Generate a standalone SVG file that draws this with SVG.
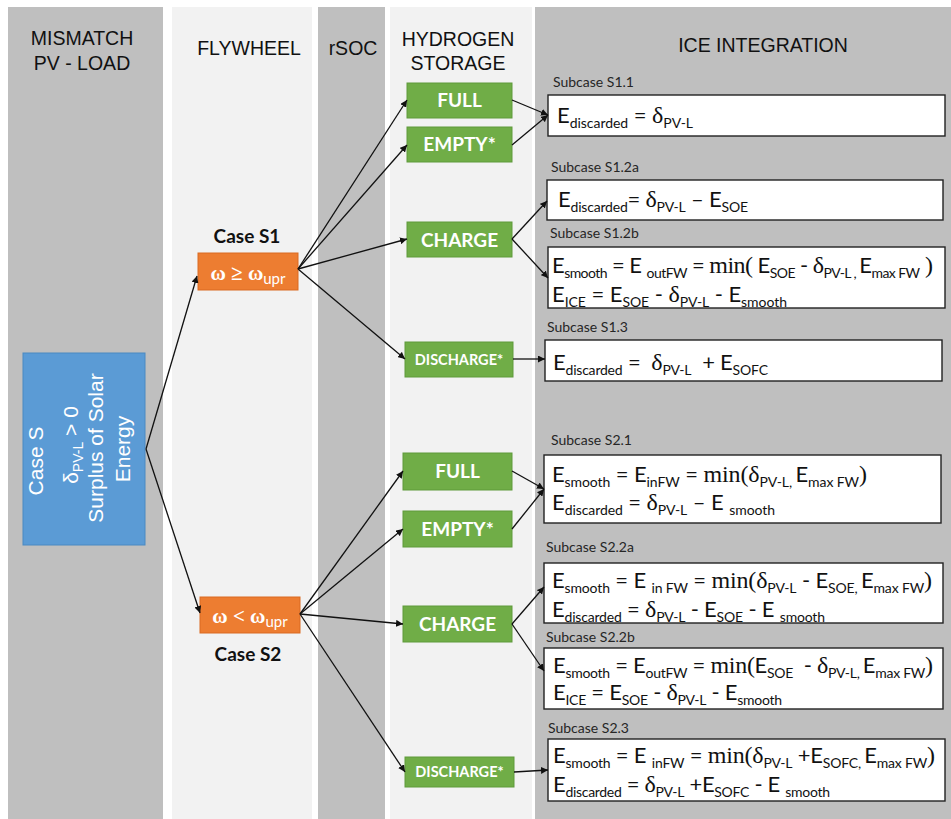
<svg xmlns="http://www.w3.org/2000/svg" width="951" height="819" viewBox="0 0 951 819">
<style>
.colD{fill:#bfbfbf}
.colL{fill:#f2f2f2}
.hd{font-family:"Liberation Sans",Arial,sans-serif;font-size:19.5px;fill:#111;text-anchor:middle}
.bt{font-family:"Liberation Sans",Arial,sans-serif;font-size:21px;fill:#fff;text-anchor:middle}
.bs{font-size:14px}
.gb{fill:#70ad47;stroke:#5e9a3b;stroke-width:1}
.gt{font-family:Lato,"Open Sans",sans-serif;font-weight:bold;fill:#fff;text-anchor:middle}
.ob{fill:#ed7d31;stroke:#d96b22;stroke-width:1}
.ot{font-family:"Liberation Serif",serif;font-weight:bold;font-size:21px;fill:#fff;text-anchor:middle}
.cs{font-family:Lato,"Open Sans",sans-serif;font-weight:bold;font-size:19px;fill:#111;text-anchor:middle}
.lb{font-family:Lato,"Open Sans",sans-serif;font-size:14px;fill:#262626}
.fb{fill:#fff;stroke:#222;stroke-width:1.4}
.f{font-family:Lato,"Open Sans",sans-serif;font-size:22px;fill:#111;white-space:pre}
.s{font-size:14px}
.g{font-family:"Liberation Serif",serif;font-size:24px}
.c line{stroke:#111;stroke-width:1.3;marker-end:url(#ah)}
</style>
<defs>
<marker id="ah" viewBox="0 0 10 10" refX="10" refY="5" markerWidth="7" markerHeight="7" markerUnits="userSpaceOnUse" orient="auto">
<path d="M0,0 L10,5 L0,10 z" fill="#111"/>
</marker>
</defs>
<rect width="951" height="819" fill="#fff"/>
<g id="columns">
<rect class="colD" x="8" y="7" width="155" height="812"/>
<rect class="colL" x="172" y="7" width="140" height="812"/>
<rect class="colD" x="318" y="7" width="67" height="812"/>
<rect class="colL" x="390" y="7" width="142" height="812"/>
<rect class="colD" x="535" y="7" width="416" height="812"/>
<text class="hd" x="82" y="45">MISMATCH</text>
<text class="hd" x="82" y="70">PV - LOAD</text>
<text class="hd" x="249" y="55">FLYWHEEL</text>
<text class="hd" x="353" y="55">rSOC</text>
<text class="hd" x="458" y="46">HYDROGEN</text>
<text class="hd" x="458" y="70">STORAGE</text>
<text class="hd" x="763" y="52">ICE INTEGRATION</text>
</g>
<g id="caseS">
<rect x="23" y="353" width="122" height="192" fill="#5b9bd5" stroke="#4a89c2" stroke-width="1"/>
<text class="bt" transform="translate(43,461) rotate(-90)">Case S</text>
<text class="bt" transform="translate(78,445) rotate(-90)">δ<tspan class="bs" dy="5">PV-L</tspan><tspan dy="-5"> &gt; 0</tspan></text>
<text class="bt" transform="translate(103,448) rotate(-90)">Surplus of Solar</text>
<text class="bt" transform="translate(130,449) rotate(-90)">Energy</text>
</g>
<g id="caseS1">
<text class="cs" x="247" y="243">Case S1</text>
<rect class="ob" x="198" y="253" width="100" height="37"/>
<text class="ot" x="248" y="280">ω ≥ ω<tspan font-family="Lato,sans-serif" font-weight="normal" font-size="15" dy="4">upr</tspan></text>
</g>
<g id="caseS2">
<rect class="ob" x="200" y="597" width="100" height="36"/>
<text class="ot" x="250" y="623">ω &lt; ω<tspan font-family="Lato,sans-serif" font-weight="normal" font-size="15" dy="4">upr</tspan></text>
<text class="cs" x="248" y="661">Case S2</text>
</g>
<g id="h2-s1">
<rect class="gb" x="407" y="83" width="105" height="35"/>
<text class="gt" x="459.5" y="107" font-size="19">FULL</text>
<rect class="gb" x="407" y="127" width="105" height="35"/>
<text class="gt" x="459.5" y="151" font-size="19">EMPTY*</text>
<rect class="gb" x="407" y="222" width="105" height="35"/>
<text class="gt" x="459.5" y="246.5" font-size="19">CHARGE</text>
<rect class="gb" x="405" y="342" width="108" height="35"/>
<text class="gt" x="459" y="364.5" font-size="14.5">DISCHARGE*</text>
</g>
<g id="h2-s2">
<rect class="gb" x="403" y="453" width="109" height="37"/>
<text class="gt" x="457.5" y="478" font-size="19">FULL</text>
<rect class="gb" x="403" y="511" width="109" height="36"/>
<text class="gt" x="457.5" y="535.5" font-size="19">EMPTY*</text>
<rect class="gb" x="403" y="606" width="109" height="36"/>
<text class="gt" x="457.5" y="630.5" font-size="19">CHARGE</text>
<rect class="gb" x="405" y="757" width="109" height="30"/>
<text class="gt" x="459.5" y="777" font-size="14.5">DISCHARGE*</text>
</g>
<g id="s11">
<text class="lb" x="553" y="87">Subcase S1.1</text>
<rect class="fb" x="548" y="95" width="397" height="41"/>
<text class="f" x="557" y="123" textLength="136" lengthAdjust="spacing">E<tspan class="s" dy="5">discarded</tspan><tspan dy="-5"> = </tspan><tspan class="g">δ</tspan><tspan class="s" dy="5">PV-L</tspan></text>
</g>
<g id="s12a">
<text class="lb" x="551" y="172">Subcase S1.2a</text>
<rect class="fb" x="547" y="180" width="396" height="40"/>
<text class="f" x="558" y="207" textLength="190" lengthAdjust="spacing">E<tspan class="s" dy="5">discarded</tspan><tspan dy="-5">= </tspan><tspan class="g">δ</tspan><tspan class="s" dy="5">PV-L</tspan><tspan dy="-5"> – E</tspan><tspan class="s" dy="5">SOE</tspan></text>
</g>
<g id="s12b">
<text class="lb" x="550" y="238">Subcase S1.2b</text>
<rect class="fb" x="548" y="247" width="397" height="61"/>
<text class="f" x="552" y="273" textLength="381" lengthAdjust="spacing">E<tspan class="s" dy="5">smooth</tspan><tspan dy="-5"> = E </tspan><tspan class="s" dy="5">outFW</tspan><tspan dy="-5"> = </tspan><tspan class="g">min(</tspan><tspan> E</tspan><tspan class="s" dy="5">SOE</tspan><tspan dy="-5"> - </tspan><tspan class="g">δ</tspan><tspan class="s" dy="5">PV-L , </tspan><tspan dy="-5">E</tspan><tspan class="s" dy="5">max FW</tspan><tspan dy="-5" class="g"> )</tspan></text>
<text class="f" x="552" y="302" textLength="235" lengthAdjust="spacing">E<tspan class="s" dy="5">ICE</tspan><tspan dy="-5"> = E</tspan><tspan class="s" dy="5">SOE</tspan><tspan dy="-5"> - </tspan><tspan class="g">δ</tspan><tspan class="s" dy="5">PV-L</tspan><tspan dy="-5"> - E</tspan><tspan class="s" dy="5">smooth</tspan></text>
</g>
<g id="s13">
<text class="lb" x="547" y="332">Subcase S1.3</text>
<rect class="fb" x="545" y="340" width="397" height="41"/>
<text class="f" x="553" y="370" textLength="215" lengthAdjust="spacing">E<tspan class="s" dy="5">discarded</tspan><tspan dy="-5"> =  </tspan><tspan class="g">δ</tspan><tspan class="s" dy="5">PV-L</tspan><tspan dy="-5">  + E</tspan><tspan class="s" dy="5">SOFC</tspan></text>
</g>
<g id="s21">
<text class="lb" x="551" y="445">Subcase S2.1</text>
<rect class="fb" x="544" y="455" width="397" height="68"/>
<text class="f" x="552" y="482" textLength="315" lengthAdjust="spacing">E<tspan class="s" dy="5">smooth</tspan><tspan dy="-5"> = E</tspan><tspan class="s" dy="5">inFW</tspan><tspan dy="-5"> = </tspan><tspan class="g">min(δ</tspan><tspan class="s" dy="5">PV-L, </tspan><tspan dy="-5">E</tspan><tspan class="s" dy="5">max FW</tspan><tspan dy="-5" class="g">)</tspan></text>
<text class="f" x="552" y="510" textLength="223" lengthAdjust="spacing">E<tspan class="s" dy="5">discarded</tspan><tspan dy="-5"> = </tspan><tspan class="g">δ</tspan><tspan class="s" dy="5">PV-L</tspan><tspan dy="-5"> – E </tspan><tspan class="s" dy="5">smooth</tspan></text>
</g>
<g id="s22a">
<text class="lb" x="546" y="552">Subcase S2.2a</text>
<rect class="fb" x="544" y="563" width="399" height="60"/>
<text class="f" x="552" y="588" textLength="380" lengthAdjust="spacing">E<tspan class="s" dy="5">smooth</tspan><tspan dy="-5"> = E </tspan><tspan class="s" dy="5">in FW</tspan><tspan dy="-5"> = </tspan><tspan class="g">min(δ</tspan><tspan class="s" dy="5">PV-L</tspan><tspan dy="-5"> - E</tspan><tspan class="s" dy="5">SOE, </tspan><tspan dy="-5">E</tspan><tspan class="s" dy="5">max FW</tspan><tspan dy="-5" class="g">)</tspan></text>
<text class="f" x="552" y="617" textLength="273" lengthAdjust="spacing">E<tspan class="s" dy="5">discarded</tspan><tspan dy="-5"> = </tspan><tspan class="g">δ</tspan><tspan class="s" dy="5">PV-L</tspan><tspan dy="-5"> - E</tspan><tspan class="s" dy="5">SOE</tspan><tspan dy="-5"> - E </tspan><tspan class="s" dy="5">smooth</tspan></text>
</g>
<g id="s22b">
<text class="lb" x="546" y="642">Subcase S2.2b</text>
<rect class="fb" x="544" y="648" width="399" height="61"/>
<text class="f" x="553" y="673" textLength="380" lengthAdjust="spacing">E<tspan class="s" dy="5">smooth</tspan><tspan dy="-5"> = E</tspan><tspan class="s" dy="5">outFW</tspan><tspan dy="-5"> = </tspan><tspan class="g">min(</tspan><tspan>E</tspan><tspan class="s" dy="5">SOE</tspan><tspan dy="-5">  - </tspan><tspan class="g">δ</tspan><tspan class="s" dy="5">PV-L, </tspan><tspan dy="-5">E</tspan><tspan class="s" dy="5">max FW</tspan><tspan dy="-5" class="g">)</tspan></text>
<text class="f" x="553" y="700" textLength="229" lengthAdjust="spacing">E<tspan class="s" dy="5">ICE</tspan><tspan dy="-5"> = E</tspan><tspan class="s" dy="5">SOE</tspan><tspan dy="-5"> - </tspan><tspan class="g">δ</tspan><tspan class="s" dy="5">PV-L</tspan><tspan dy="-5"> - E</tspan><tspan class="s" dy="5">smooth</tspan></text>
</g>
<g id="s23">
<text class="lb" x="548" y="733">Subcase S2.3</text>
<rect class="fb" x="548" y="739" width="397" height="62"/>
<text class="f" x="553" y="763" textLength="382" lengthAdjust="spacing">E<tspan class="s" dy="5">smooth</tspan><tspan dy="-5"> = E </tspan><tspan class="s" dy="5">inFW</tspan><tspan dy="-5"> = </tspan><tspan class="g">min(δ</tspan><tspan class="s" dy="5">PV-L</tspan><tspan dy="-5"> +E</tspan><tspan class="s" dy="5">SOFC, </tspan><tspan dy="-5">E</tspan><tspan class="s" dy="5">max FW</tspan><tspan dy="-5" class="g">)</tspan></text>
<text class="f" x="553" y="792" textLength="277" lengthAdjust="spacing">E<tspan class="s" dy="5">discarded</tspan><tspan dy="-5"> = </tspan><tspan class="g">δ</tspan><tspan class="s" dy="5">PV-L</tspan><tspan dy="-5"> +E</tspan><tspan class="s" dy="5">SOFC</tspan><tspan dy="-5"> - E </tspan><tspan class="s" dy="5">smooth</tspan></text>
</g>
<g id="connectors" class="c">
<line x1="146" y1="449" x2="197" y2="276"/>
<line x1="146" y1="449" x2="200" y2="613"/>
<line x1="298" y1="269" x2="407" y2="100"/>
<line x1="298" y1="269" x2="407" y2="145"/>
<line x1="298" y1="269" x2="407" y2="239"/>
<line x1="298" y1="269" x2="405" y2="359"/>
<line x1="512" y1="100" x2="548" y2="115"/>
<line x1="512" y1="145" x2="548" y2="115"/>
<line x1="512" y1="239" x2="547" y2="201"/>
<line x1="512" y1="239" x2="548" y2="278"/>
<line x1="513" y1="359" x2="545" y2="359"/>
<line x1="300" y1="614" x2="403" y2="471"/>
<line x1="300" y1="614" x2="403" y2="529"/>
<line x1="300" y1="614" x2="403" y2="624"/>
<line x1="300" y1="614" x2="405" y2="772"/>
<line x1="512" y1="471" x2="544" y2="489"/>
<line x1="512" y1="529" x2="544" y2="489"/>
<line x1="512" y1="624" x2="544" y2="587"/>
<line x1="512" y1="624" x2="544" y2="671"/>
<line x1="514" y1="772" x2="548" y2="770"/>
</g>
</svg>
